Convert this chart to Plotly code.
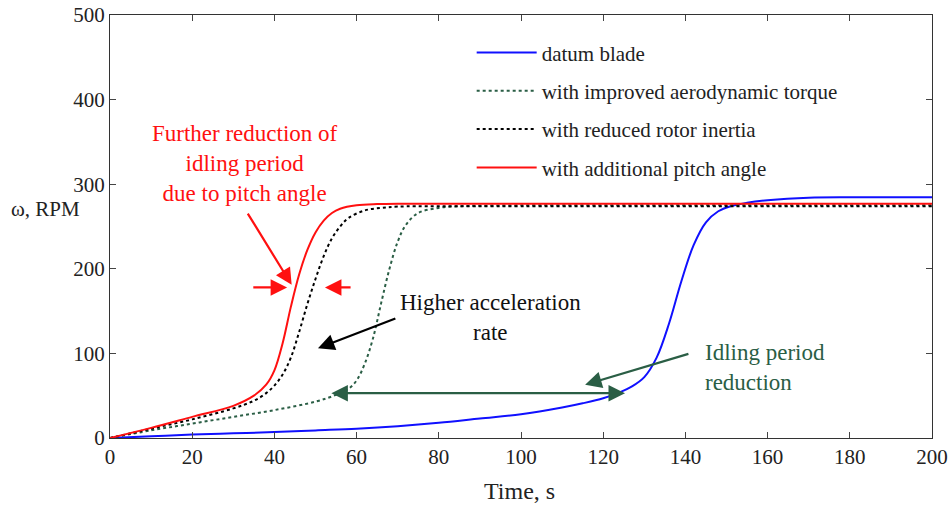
import plotly.graph_objects as go

# ---- data ----
t_datum = [0, 10, 20, 30, 40, 50, 60, 70, 80, 90, 100, 110, 115, 120, 124, 127, 130, 133, 136, 139, 142, 145, 148, 151, 155, 160, 170, 180, 190, 200]
w_datum = [0, 2, 4, 5.5, 7, 9, 11, 14, 18, 23, 28, 36, 41, 47, 54, 61, 72, 95, 135, 185, 228, 255, 268, 274, 278, 281, 284, 284.5, 284.5, 284.5]

t_aero = [0, 10, 20, 30, 40, 50, 55, 58, 60, 62, 64, 66, 68, 70, 72, 75, 80, 85, 90, 100, 120, 150, 200]
w_aero = [0, 9, 17, 25, 33, 43, 51, 58, 68, 88, 118, 160, 200, 232, 252, 266, 272, 274, 274.5, 275, 275, 275, 275]

t_inertia = [0, 10, 20, 30, 35, 38, 40, 42, 44, 46, 48, 50, 52, 54, 56, 58, 62, 66, 70, 80, 100, 150, 200]
w_inertia = [0, 11, 22, 35, 44, 53, 62, 75, 95, 125, 158, 188, 215, 236, 250, 260, 269, 272, 273.5, 274, 274, 274, 274]

t_pitch = [0, 10, 20, 30, 35, 38, 40, 42, 44, 46, 48, 50, 52, 54, 56, 60, 65, 70, 80, 100, 150, 200]
w_pitch = [0, 12, 25, 38, 50, 63, 80, 112, 155, 193, 222, 243, 257, 266, 271, 275, 276.5, 277, 277, 277, 277, 277]

series_names = ["datum blade", "with improved aerodynamic torque",
                "with reduced rotor inertia", "with additional pitch angle"]

x_ticks = [0, 20, 40, 60, 80, 100, 120, 140, 160, 180, 200]
y_ticks = [0, 100, 200, 300, 400, 500]

FONT = "Liberation Serif"
GREEN = "#2a5e45"
TXT = "#222222"

fig = go.Figure()
fig.add_trace(go.Scatter(x=t_datum, y=w_datum, mode="lines", name=series_names[0],
                         line=dict(color="#1010ff", width=2, shape="spline"), legendgroup="a"))
fig.add_trace(go.Scatter(x=t_aero, y=w_aero, mode="lines", name=series_names[1],
                         line=dict(color=GREEN, width=2, dash="dot", shape="spline"), legendgroup="b"))
fig.add_trace(go.Scatter(x=t_inertia, y=w_inertia, mode="lines", name=series_names[2],
                         line=dict(color="#000000", width=2, dash="dot", shape="spline"), legendgroup="c"))
fig.add_trace(go.Scatter(x=t_pitch, y=w_pitch, mode="lines", name=series_names[3],
                         line=dict(color="#ff1010", width=2, shape="spline"), legendgroup="d"))

def arrow(x, y, ax, ay, color, side="end"):
    fig.add_annotation(x=x, y=y, ax=ax, ay=ay, xref="x", yref="y", axref="x", ayref="y",
                       showarrow=True, arrowhead=2, arrowsize=1.5, arrowwidth=2.2,
                       arrowcolor=color, arrowside=side, text="")

# red annotations
fig.add_annotation(x=32.8, y=324, xref="x", yref="y", showarrow=False,
                   text="Further reduction of<br>idling period<br>due to pitch angle",
                   font=dict(family=FONT, size=23, color="#ff1010"), align="center")
arrow(44.2, 181, 33.3, 267, "#ff1010")
arrow(43.1, 178, 34.5, 178, "#ff1010")
arrow(52.3, 178, 58.9, 178, "#ff1010")

# black annotation
fig.add_annotation(x=92.5, y=142, xref="x", yref="y", showarrow=False,
                   text="Higher acceleration<br>rate",
                   font=dict(family=FONT, size=23, color="#111111"), align="center")
arrow(50.6, 106, 69.8, 142, "#000000")

# green annotation
fig.add_annotation(x=144.3, y=83, xref="x", yref="y", xanchor="left", showarrow=False,
                   text="Idling period<br>reduction",
                   font=dict(family=FONT, size=23, color=GREEN), align="left")
arrow(115.6, 63, 141.1, 100, GREEN)
arrow(125.3, 53, 53.5, 53, GREEN, side="end+start")

# axis titles
fig.add_annotation(x=-0.079, y=0.541, xref="paper", yref="paper", xanchor="center", yanchor="middle",
                   showarrow=False, text="ω, RPM", font=dict(family=FONT, size=21, color=TXT))
fig.add_annotation(x=0.4976, y=-0.126, xref="paper", yref="paper", xanchor="center", yanchor="middle",
                   showarrow=False, text="Time, s", font=dict(family=FONT, size=24, color=TXT))

fig.update_layout(
    width=950, height=506,
    margin=dict(l=110, r=18, t=15, b=68),
    paper_bgcolor="white", plot_bgcolor="white",
    font=dict(family=FONT, size=21, color=TXT),
    showlegend=True,
    legend=dict(x=0.440, y=0.959, xanchor="left", yanchor="top",
                bgcolor="rgba(0,0,0,0)", font=dict(family=FONT, size=21, color=TXT),
                tracegroupgap=8, itemwidth=60),
)
fig.update_xaxes(range=[0, 200], tickvals=x_ticks, ticks="inside", ticklen=6,
                 tickfont=dict(family=FONT, size=21, color=TXT), automargin=False,
                 showline=True, linecolor="#333", linewidth=1, mirror="ticks",
                 showgrid=False, zeroline=False)
fig.update_yaxes(range=[0, 500], tickvals=y_ticks, ticks="inside", ticklen=6,
                 tickfont=dict(family=FONT, size=21, color=TXT), automargin=False,
                 showline=True, linecolor="#333", linewidth=1, mirror="ticks",
                 showgrid=False, zeroline=False)

fig.write_html("out.html")
